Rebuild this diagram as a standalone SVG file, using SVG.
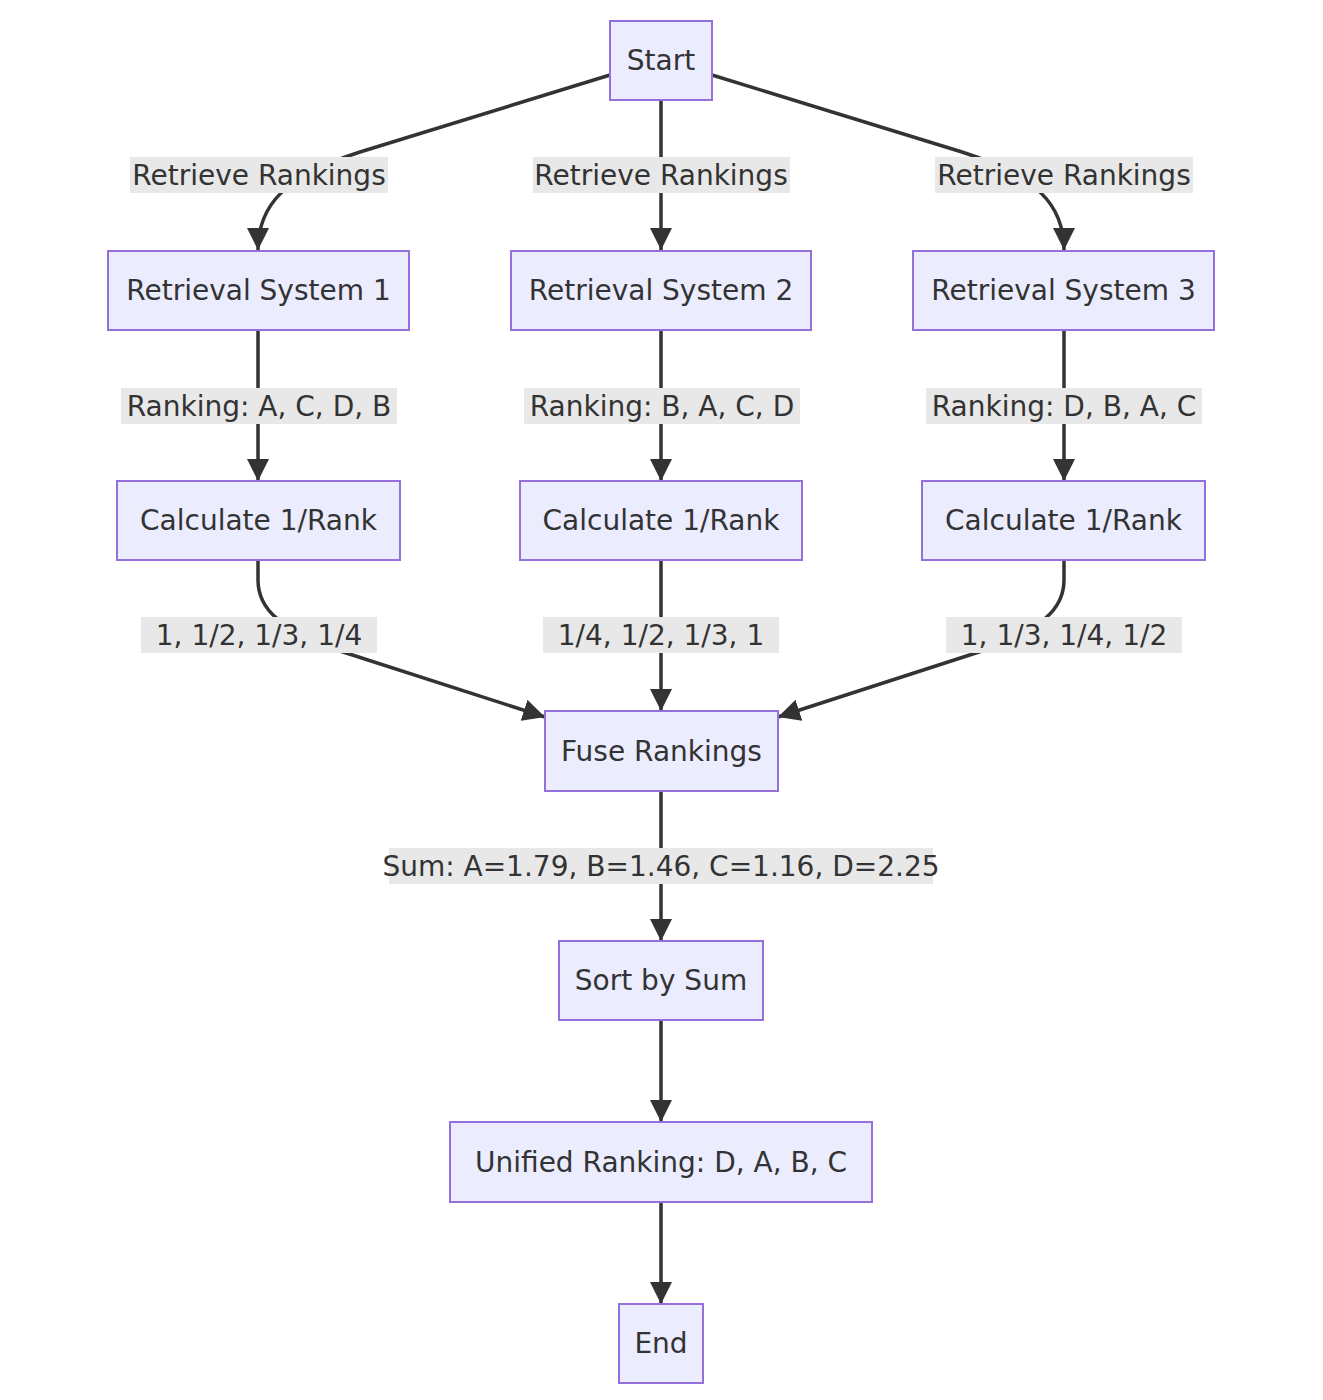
<svg xmlns="http://www.w3.org/2000/svg" width="1323" height="1400" viewBox="0 0 1323 1400">
<style>
.node rect{fill:#ECECFF;stroke:#9370DB;stroke-width:2}
text{font-family:"DejaVu Sans","Noto Sans",sans-serif;font-size:28px;fill:#333;text-anchor:middle;dominant-baseline:central}
.edge{fill:none;stroke:#333;stroke-width:3.5}
.lbl rect{fill:#e8e8e8}
</style>
<defs>
<marker id="arrow" viewBox="0 0 10 10" refX="10" refY="5" markerUnits="userSpaceOnUse" markerWidth="22" markerHeight="22" orient="auto">
<path d="M0,0 L10,5 L0,10 z" fill="#333"/>
</marker>
</defs>
<rect width="1323" height="1400" fill="#fff"/>
<g id="edges">
<path class="edge" d="M610,75 L360,152 C285,176 258,205 258,250" marker-end="url(#arrow)"/>
<path class="edge" d="M661,100 L661,250" marker-end="url(#arrow)"/>
<path class="edge" d="M712,75 L962,152 C1037,176 1064,205 1064,250" marker-end="url(#arrow)"/>
<path class="edge" d="M258,330 L258,481" marker-end="url(#arrow)"/>
<path class="edge" d="M661,330 L661,481" marker-end="url(#arrow)"/>
<path class="edge" d="M1064,330 L1064,481" marker-end="url(#arrow)"/>
<path class="edge" d="M258,560 L258,580 C258,610 280,628 340,651 L545,717" marker-end="url(#arrow)"/>
<path class="edge" d="M661,560 L661,711" marker-end="url(#arrow)"/>
<path class="edge" d="M1064,560 L1064,580 C1064,610 1042,628 982,651 L778,717" marker-end="url(#arrow)"/>
<path class="edge" d="M661,791 L661,941" marker-end="url(#arrow)"/>
<path class="edge" d="M661,1020 L661,1122" marker-end="url(#arrow)"/>
<path class="edge" d="M661,1202 L661,1304" marker-end="url(#arrow)"/>
</g>
<g id="edge-labels">
<g class="lbl"><rect x="130" y="157" width="258" height="36"/><text x="259" y="175">Retrieve Rankings</text></g>
<g class="lbl"><rect x="533" y="157" width="257" height="36"/><text x="661" y="175">Retrieve Rankings</text></g>
<g class="lbl"><rect x="935" y="157" width="258" height="36"/><text x="1064" y="175">Retrieve Rankings</text></g>
<g class="lbl"><rect x="121" y="388" width="276" height="36"/><text x="259" y="406">Ranking: A, C, D, B</text></g>
<g class="lbl"><rect x="524" y="388" width="276" height="36"/><text x="662" y="406">Ranking: B, A, C, D</text></g>
<g class="lbl"><rect x="926" y="388" width="276" height="36"/><text x="1064" y="406">Ranking: D, B, A, C</text></g>
<g class="lbl"><rect x="141" y="617" width="236" height="36"/><text x="259" y="635">1, 1/2, 1/3, 1/4</text></g>
<g class="lbl"><rect x="543" y="617" width="236" height="36"/><text x="661" y="635">1/4, 1/2, 1/3, 1</text></g>
<g class="lbl"><rect x="946" y="617" width="236" height="36"/><text x="1064" y="635">1, 1/3, 1/4, 1/2</text></g>
<g class="lbl"><rect x="389" y="848" width="544" height="36"/><text x="661" y="866">Sum: A=1.79, B=1.46, C=1.16, D=2.25</text></g>
</g>
<g id="start" class="node"><rect x="610" y="21" width="102" height="79"/><text x="661" y="60.5">Start</text></g>
<g id="rs1" class="node"><rect x="108" y="251" width="301" height="79"/><text x="258.5" y="290.5">Retrieval System 1</text></g>
<g id="rs2" class="node"><rect x="511" y="251" width="300" height="79"/><text x="661" y="290.5">Retrieval System 2</text></g>
<g id="rs3" class="node"><rect x="913" y="251" width="301" height="79"/><text x="1063.5" y="290.5">Retrieval System 3</text></g>
<g id="calc1" class="node"><rect x="117" y="481" width="283" height="79"/><text x="258.5" y="520.5">Calculate 1/Rank</text></g>
<g id="calc2" class="node"><rect x="520" y="481" width="282" height="79"/><text x="661" y="520.5">Calculate 1/Rank</text></g>
<g id="calc3" class="node"><rect x="922" y="481" width="283" height="79"/><text x="1063.5" y="520.5">Calculate 1/Rank</text></g>
<g id="fuse" class="node"><rect x="545" y="711" width="233" height="80"/><text x="661.5" y="751">Fuse Rankings</text></g>
<g id="sort" class="node"><rect x="559" y="941" width="204" height="79"/><text x="661" y="980.5">Sort by Sum</text></g>
<g id="unified" class="node"><rect x="450" y="1122" width="422" height="80"/><text x="661" y="1162">Unified Ranking: D, A, B, C</text></g>
<g id="end" class="node"><rect x="619" y="1304" width="84" height="79"/><text x="661" y="1343.5">End</text></g>
</svg>
